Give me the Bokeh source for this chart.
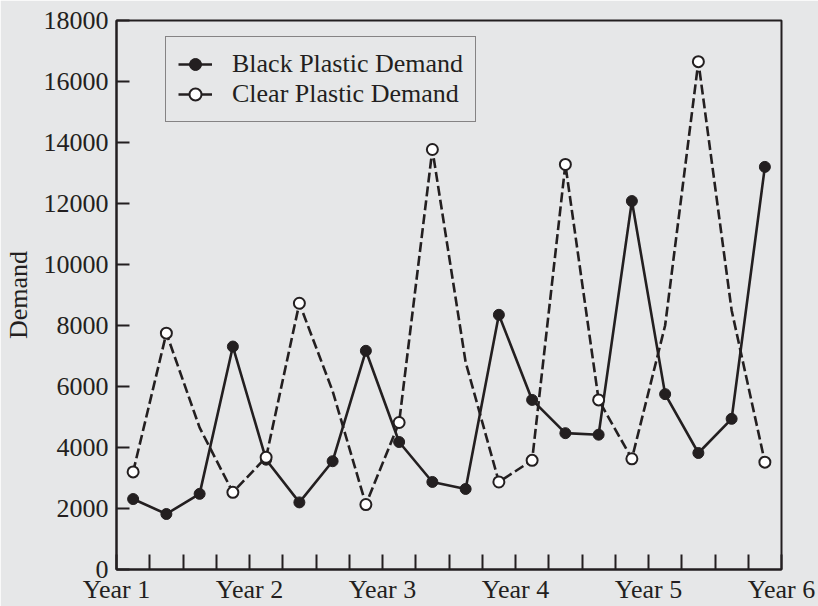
from bokeh.plotting import figure
from bokeh.models import (Range1d, FixedTicker, Legend, LegendItem,
                          ColumnDataSource)
from bokeh.embed import file_html
from bokeh.resources import INLINE

# ---- data ----
quarters = list(range(1, 21))
black_demand = [2310, 1820, 2480, 7310, 3600, 2200, 3550, 7170, 4180, 2870,
                2640, 8350, 5560, 4470, 4420, 12080, 5750, 3820, 4940, 13200]
clear_demand = [3200, 7750, 4650, 2530, 3680, 8730, 5850, 2130, 4820, 13770,
                6800, 2870, 3580, 13280, 5560, 3630, 8000, 16650, 8500, 3520]
clear_marked = [True, True, False, True, True, True, False, True, True, True,
                False, True, True, True, True, True, False, True, False, True]
year_labels = ["Year 1", "Year 2", "Year 3", "Year 4", "Year 5", "Year 6"]
y_ticks = [0, 2000, 4000, 6000, 8000, 10000, 12000, 14000, 16000, 18000]
series_names = ["Black Plastic Demand", "Clear Plastic Demand"]
y_title = "Demand"

BG = "#e6e7e8"
INK = "#231f20"
FONT = "Liberation Serif"
FS = "26px"

xs = [q - 0.5 for q in quarters]
n_quarters = len(quarters)

p = figure(width=818, height=606, output_backend="svg", toolbar_location=None,
           x_range=Range1d(0, n_quarters), y_range=Range1d(0, 18000),
           min_border_left=116, min_border_right=37, min_border_top=20,
           min_border_bottom=36)
p.background_fill_color = BG
p.border_fill_color = BG
p.outline_line_color = INK
p.outline_line_width = 2
p.grid.visible = False

# axes
xa = p.xaxis[0]
xa.ticker = FixedTicker(ticks=list(range(0, n_quarters + 1)))
xa.major_label_overrides = {i: (year_labels[i // 4] if i % 4 == 0 else "")
                            for i in range(0, n_quarters + 1)}
xa.major_tick_in = 15
xa.major_tick_out = 0
xa.minor_tick_line_color = None
xa.axis_line_width = 2
xa.axis_line_color = INK
xa.major_tick_line_width = 2
xa.major_tick_line_color = INK
xa.major_label_text_font = FONT
xa.major_label_text_font_size = FS
xa.major_label_text_color = INK
xa.major_label_standoff = 5

ya = p.yaxis[0]
ya.ticker = FixedTicker(ticks=y_ticks)
ya.major_label_overrides = {t: str(t) for t in y_ticks}
ya.major_tick_in = 13
ya.major_tick_out = 0
ya.minor_tick_line_color = None
ya.axis_line_width = 2
ya.axis_line_color = INK
ya.major_tick_line_width = 2
ya.major_tick_line_color = INK
ya.major_label_text_font = FONT
ya.major_label_text_font_size = FS
ya.major_label_text_color = INK
ya.major_label_standoff = 8
ya.axis_label = y_title
ya.axis_label_text_font = FONT
ya.axis_label_text_font_size = FS
ya.axis_label_text_font_style = "normal"
ya.axis_label_text_color = INK
ya.axis_label_standoff = 8

# series
black_src = ColumnDataSource(dict(x=xs, y=black_demand))
clear_src = ColumnDataSource(dict(x=xs, y=clear_demand))
clear_mk_src = ColumnDataSource(dict(
    x=[x for x, m in zip(xs, clear_marked) if m],
    y=[y for y, m in zip(clear_demand, clear_marked) if m]))

b_line = p.line("x", "y", source=black_src, line_color=INK, line_width=2.6)
b_pts = p.scatter("x", "y", source=black_src, size=11, marker="circle",
                  fill_color=INK, line_color=INK, line_width=1)
c_line = p.line("x", "y", source=clear_src, line_color=INK, line_width=2.6,
                line_dash="10 4")
c_pts = p.scatter("x", "y", source=clear_mk_src, size=11, marker="circle",
                  fill_color="white", line_color=INK, line_width=2)

# solid line used only for the legend sample of the clear series (no visible data)
c_leg_line = p.line(x=[xs[0]], y=[float("nan")], line_color=INK, line_width=2.6)

legend = Legend(items=[
    LegendItem(label=series_names[0], renderers=[b_line, b_pts]),
    LegendItem(label=series_names[1], renderers=[c_leg_line, c_pts]),
], location=(49, 447))
legend.label_text_font = FONT
legend.label_text_font_size = FS
legend.label_text_color = INK
legend.glyph_width = 34
legend.glyph_height = 30
legend.label_standoff = 20
legend.spacing = 0
legend.padding = 12
legend.margin = 0
legend.border_line_color = INK
legend.border_line_width = 1.5
legend.background_fill_alpha = 0
p.add_layout(legend, "center")

html = file_html(p, INLINE)
html = html.replace("<body>", '<body style="background-color:%s;">' % BG, 1)
open("out.html", "w").write(html)
